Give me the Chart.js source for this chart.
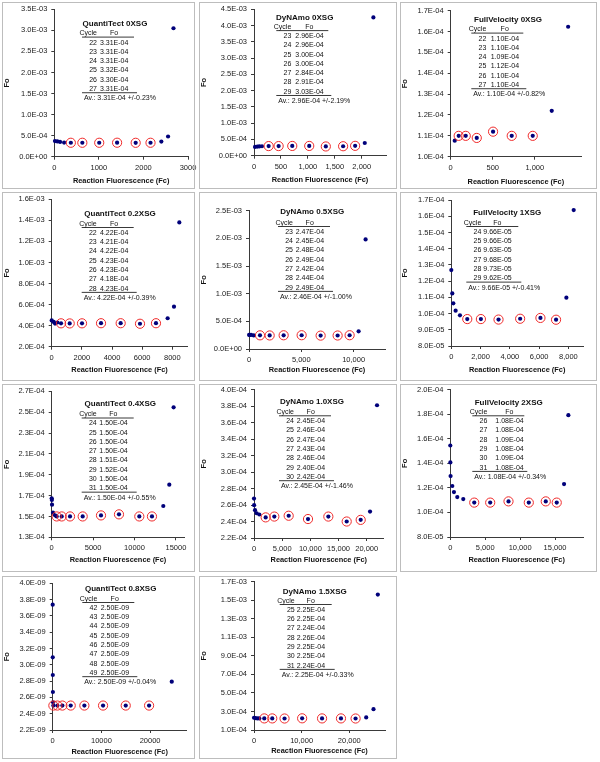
<!DOCTYPE html>
<html>
<head>
<meta charset="utf-8">
<script src="https://cdn.jsdelivr.net/npm/chart.js@4.4.1/dist/chart.umd.min.js"></script>
<style>
body { margin: 0; background: #fff; width: 600px; height: 762px; position: relative; overflow: hidden; }
canvas { position: absolute; }
.box { position: absolute; border: 1px solid #bdbdbd; box-sizing: border-box; pointer-events: none; }
</style>
</head>
<body>
<script>
// ---- data ----
// p*Fc/p*Fo: points that are not circled, p*CycFc/p*CycFo: circled points (the cycles in the table)

// QuantiTect 0XSG
var p1Title = 'QuantiTect 0XSG';
var p1Fc = [15, 68, 129, 220, 2402, 2553, 2674];
var p1Fo = [3.7e-4, 3.62e-4, 3.5e-4, 3.35e-4, 3.6e-4, 4.8e-4, 3.05e-3];
var p1Cycle = [22, 23, 24, 25, 26, 27];
var p1CycFc = [371, 629, 1008, 1409, 1826, 2159];
var p1CycFo = [3.31e-4, 3.31e-4, 3.31e-4, 3.32e-4, 3.30e-4, 3.31e-4];
var p1Av = [3.31e-4, 0.23];
var p1XAxis = [0, 3000, 1000];
var p1YAxis = [0, 3.5e-3, 5e-4];

// DyNAmo 0XSG
var p2Title = 'DyNAmo 0XSG';
var p2Fc = [19, 62, 99, 148, 2056, 2216];
var p2Fo = [2.7e-4, 2.8e-4, 2.85e-4, 2.9e-4, 3.9e-4, 4.25e-3];
var p2Cycle = [23, 24, 25, 26, 27, 28, 29];
var p2CycFc = [272, 457, 710, 1025, 1333, 1654, 1877];
var p2CycFo = [2.96e-4, 2.96e-4, 3.00e-4, 3.00e-4, 2.84e-4, 2.91e-4, 3.03e-4];
var p2Av = [2.96e-4, 2.19];
var p2XAxis = [0, 2450, 500];
var p2YAxis = [0, 4.5e-3, 5e-4];

// FullVelocity 0XSG
var p3Title = 'FullVelocity 0XSG';
var p3Fc = [48, 1202, 1397];
var p3Fo = [1.077e-4, 1.22e-4, 1.623e-4];
var p3Cycle = [22, 23, 24, 25, 26, 27];
var p3CycFc = [95, 179, 310, 504, 726, 976];
var p3CycFo = [1.10e-4, 1.10e-4, 1.09e-4, 1.12e-4, 1.10e-4, 1.10e-4];
var p3Av = [1.10e-4, 0.82];
var p3XAxis = [0, 1550, 500, 1000];
var p3YAxis = [1.0e-4, 1.7e-4, 1e-5];

// QuantiTect 0.2XSG
var p4Title = 'QuantiTect 0.2XSG';
var p4Fc = [0, 133, 221, 376, 7690, 8110, 8464];
var p4Fo = [4.5e-4, 4.35e-4, 4.2e-4, 4.3e-4, 4.7e-4, 5.8e-4, 1.38e-3];
var p4Cycle = [22, 23, 24, 25, 26, 27, 28];
var p4CycFc = [619, 1193, 2011, 3271, 4575, 5856, 6917];
var p4CycFo = [4.22e-4, 4.21e-4, 4.22e-4, 4.23e-4, 4.23e-4, 4.18e-4, 4.23e-4];
var p4Av = [4.22e-4, 0.39];
var p4XAxis = [0, 9000, 2000];
var p4YAxis = [2e-4, 1.6e-3, 2e-4];

// DyNAmo 0.5XSG
var p5Title = 'DyNAmo 0.5XSG';
var p5Fc = [10, 80, 200, 450, 10478, 11146];
var p5Fo = [2.55e-4, 2.55e-4, 2.55e-4, 2.45e-4, 3.2e-4, 1.98e-3];
var p5Cycle = [23, 24, 25, 26, 27, 28, 29];
var p5CycFc = [1051, 1975, 3312, 5032, 6847, 8471, 9618];
var p5CycFo = [2.47e-4, 2.45e-4, 2.48e-4, 2.49e-4, 2.42e-4, 2.44e-4, 2.49e-4];
var p5Av = [2.46e-4, 1.00];
var p5XAxis = [0, 13000, 5000];
var p5YAxis = [0, 2.5e-3, 5e-4];

// FullVelocity 1XSG
var p6Title = 'FullVelocity 1XSG';
var p6Fc = [0, 68, 136, 295, 591, 7864, 8364];
var p6Fo = [1.268e-4, 1.124e-4, 1.063e-4, 1.018e-4, 9.89e-5, 1.098e-4, 1.638e-4];
var p6Cycle = [24, 25, 26, 27, 28, 29];
var p6CycFc = [1091, 2023, 3227, 4705, 6091, 7159];
var p6CycFo = [9.66e-5, 9.66e-5, 9.63e-5, 9.68e-5, 9.73e-5, 9.62e-5];
var p6Av = [9.66e-5, 0.41];
var p6XAxis = [0, 9000, 2000];
var p6YAxis = [8e-5, 1.7e-4, 1e-5];

// QuantiTect 0.4XSG
var p7Title = 'QuantiTect 0.4XSG';
var p7Fc = [0, 20, 40, 160, 400, 13475, 14200, 14722];
var p7Fo = [1.674e-4, 1.658e-4, 1.613e-4, 1.536e-4, 1.511e-4, 1.6e-4, 1.805e-4, 2.546e-4];
var p7Cycle = [24, 25, 26, 27, 28, 29, 30, 31];
var p7CycFc = [603, 1207, 2212, 3741, 5953, 8124, 10579, 12108];
var p7CycFo = [1.50e-4, 1.50e-4, 1.50e-4, 1.50e-4, 1.51e-4, 1.52e-4, 1.50e-4, 1.50e-4];
var p7Av = [1.50e-4, 0.55];
var p7XAxis = [0, 16000, 5000];
var p7YAxis = [1.3e-4, 2.7e-4, 2e-5];

// DyNAmo 1.0XSG
var p8Title = 'DyNAmo 1.0XSG';
var p8Fc = [0, 20, 178, 473, 947, 20592, 21834];
var p8Fo = [2.678e-4, 2.598e-4, 2.537e-4, 2.5e-4, 2.485e-4, 2.52e-4, 3.81e-4];
var p8Cycle = [24, 25, 26, 27, 28, 29, 30];
var p8CycFc = [2071, 3609, 6154, 9586, 13195, 16450, 18935];
var p8CycFo = [2.45e-4, 2.46e-4, 2.47e-4, 2.43e-4, 2.46e-4, 2.40e-4, 2.42e-4];
var p8Av = [2.45e-4, 1.46];
var p8XAxis = [0, 23000, 5000];
var p8YAxis = [2.2e-4, 4.0e-4, 2e-5];

// FullVelocity 2XSG
var p9Title = 'FullVelocity 2XSG';
var p9Fc = [0, 10, 40, 286, 524, 1000, 1857, 16286, 16905];
var p9Fo = [1.545e-4, 1.407e-4, 1.296e-4, 1.215e-4, 1.166e-4, 1.125e-4, 1.109e-4, 1.231e-4, 1.792e-4];
var p9Cycle = [26, 27, 28, 29, 30, 31];
var p9CycFc = [3429, 5714, 8333, 11238, 13667, 15238];
var p9CycFo = [1.08e-4, 1.08e-4, 1.09e-4, 1.08e-4, 1.09e-4, 1.08e-4];
var p9Av = [1.08e-4, 0.34];
var p9XAxis = [0, 19000, 5000];
var p9YAxis = [8e-5, 2e-4, 2e-5];

// QuantiTect 0.8XSG
var p10Title = 'QuantiTect 0.8XSG';
var p10Fc = [0, 10, 20, 40, 80, 24452];
var p10Fo = [3.738e-9, 3.092e-9, 2.875e-9, 2.666e-9, 2.54e-9, 2.793e-9];
var p10Cycle = [42, 43, 44, 45, 46, 47, 48, 49];
var p10CycFc = [137, 959, 1986, 3699, 6507, 10342, 15000, 19795];
var p10CycFo = [2.50e-9, 2.50e-9, 2.50e-9, 2.50e-9, 2.50e-9, 2.50e-9, 2.50e-9, 2.50e-9];
var p10Av = [2.50e-9, 0.04];
var p10XAxis = [0, 27500, 10000];
var p10YAxis = [2.2e-9, 4.0e-9, 2e-10];

// DyNAmo 1.5XSG
var p11Title = 'DyNAmo 1.5XSG';
var p11Fc = [0, 279, 697, 1115, 23554, 25087, 25993];
var p11Fo = [2.32e-4, 2.29e-4, 2.25e-4, 2.25e-4, 2.36e-4, 3.25e-4, 1.56e-3];
var p11Cycle = [25, 26, 27, 28, 29, 30, 31];
var p11CycFc = [2160, 3833, 6411, 10105, 14286, 18258, 21324];
var p11CycFo = [2.25e-4, 2.25e-4, 2.24e-4, 2.26e-4, 2.25e-4, 2.25e-4, 2.24e-4];
var p11Av = [2.25e-4, 0.33];
var p11XAxis = [0, 27500, 10000];
var p11YAxis = [1e-4, 1.7e-3, 2e-4];

// ---- layout (page pixels) ----
// box: frame, area: plot area L,T,R,B, xt: x title offset below axis,
// tab: title x, title y, header y, cycle column right edge, gap to Fo column
var layout = [
  {box: [2, 2, 195, 189],     area: [54.3, 9.3, 188, 156.7],   xt: 24.3, tab: [115, 24, 33.3, 97, 3],         commas: false},
  {box: [199, 2, 397, 189],   area: [254, 9.3, 386, 155.7],    xt: 24,   tab: [304.7, 18, 26.8, 291.3, 4],    commas: true},
  {box: [400, 2, 597, 189],   area: [450.7, 10.7, 581, 156.7], xt: 25,   tab: [508, 19.3, 29.3, 486.3, 4.4],  commas: true},
  {box: [2, 192, 195, 381],   area: [51.7, 199.3, 187.4, 346.7], xt: 23.3, tab: [120, 214, 223.7, 96.7, 3.3], commas: false},
  {box: [199, 192, 397, 381], area: [249, 210.7, 385, 349],    xt: 21,   tab: [312.2, 212, 222.7, 293, 2.7],  commas: true},
  {box: [400, 192, 597, 381], area: [451.3, 200, 583, 346],    xt: 24,   tab: [507.2, 212.7, 222.7, 481.3, 2], commas: true},
  {box: [2, 384, 195, 572],   area: [51.7, 391.3, 184.2, 537.3], xt: 23, tab: [120.3, 404, 414.2, 96.7, 2.6], commas: false},
  {box: [199, 384, 397, 572], area: [254, 388.7, 383.6, 538],  xt: 22.3, tab: [312, 402, 412, 294, 2.7],     commas: true},
  {box: [400, 384, 597, 572], area: [450.3, 389.3, 583, 537],  xt: 23.3, tab: [508.7, 402.7, 412, 487.3, 8],  commas: true},
  {box: [2, 576, 195, 759],   area: [52.7, 583.3, 186.6, 730], xt: 22.3, tab: [120.7, 588.7, 598.7, 97.3, 3.4], commas: false},
  {box: [199, 576, 397, 759], area: [254, 580.7, 385, 730],    xt: 20.7, tab: [314.7, 591.3, 600.7, 294.7, 2], commas: true}
];

var sets = [
  [p1Title, p1Fc, p1Fo, p1Cycle, p1CycFc, p1CycFo, p1Av, p1XAxis, p1YAxis],
  [p2Title, p2Fc, p2Fo, p2Cycle, p2CycFc, p2CycFo, p2Av, p2XAxis, p2YAxis],
  [p3Title, p3Fc, p3Fo, p3Cycle, p3CycFc, p3CycFo, p3Av, p3XAxis, p3YAxis],
  [p4Title, p4Fc, p4Fo, p4Cycle, p4CycFc, p4CycFo, p4Av, p4XAxis, p4YAxis],
  [p5Title, p5Fc, p5Fo, p5Cycle, p5CycFc, p5CycFo, p5Av, p5XAxis, p5YAxis],
  [p6Title, p6Fc, p6Fo, p6Cycle, p6CycFc, p6CycFo, p6Av, p6XAxis, p6YAxis],
  [p7Title, p7Fc, p7Fo, p7Cycle, p7CycFc, p7CycFo, p7Av, p7XAxis, p7YAxis],
  [p8Title, p8Fc, p8Fo, p8Cycle, p8CycFc, p8CycFo, p8Av, p8XAxis, p8YAxis],
  [p9Title, p9Fc, p9Fo, p9Cycle, p9CycFc, p9CycFo, p9Av, p9XAxis, p9YAxis],
  [p10Title, p10Fc, p10Fo, p10Cycle, p10CycFc, p10CycFo, p10Av, p10XAxis, p10YAxis],
  [p11Title, p11Fc, p11Fo, p11Cycle, p11CycFc, p11CycFo, p11Av, p11XAxis, p11YAxis]
];

var FONT = "'Liberation Sans', Arial, sans-serif";
var AXIS = '#3a3a3a';

// 3.5E-03 style labels
function sci(v, d) {
  if (Math.abs(v) < 1e-20) return (0).toFixed(d) + 'E+00';
  var e = Math.floor(Math.log10(Math.abs(v)) + 1e-9);
  var s = (v / Math.pow(10, e)).toFixed(d);
  if (parseFloat(s) >= 10) { e += 1; s = (v / Math.pow(10, e)).toFixed(d); }
  var ae = Math.abs(e);
  return s + 'E' + (e < 0 ? '-' : '+') + (ae < 10 ? '0' : '') + ae;
}

function stepTicks(ax) {
  return function (scale) {
    var last = ax.length > 3 ? ax[3] : ax[1];
    var n = Math.floor((last - ax[0]) / ax[2] + 1e-6);
    var out = [];
    for (var i = 0; i <= n; i++) out.push({value: ax[0] + i * ax[2]});
    scale.ticks = out;
  };
}

function tablePlugin(s, lay) {
  return {
    id: 'cycleTable',
    afterDraw: function (chart) {
      var c = chart.ctx, bx = lay.box[0], by = lay.box[1];
      var tab = lay.tab;
      var tx = tab[0] - bx, ty = tab[1] - by, hy = tab[2] - by, cr = tab[3] - bx, gap = tab[4];
      var rh = 9.27, cyc = s[3], cfo = s[5], av = s[6];
      c.save();
      c.fillStyle = '#111';
      c.strokeStyle = '#222';
      c.lineWidth = 0.9;
      c.textBaseline = 'middle';
      c.font = 'bold 8px ' + FONT;
      c.textAlign = 'center';
      c.fillText(s[0], tx, ty);
      c.font = '7px ' + FONT;
      c.textAlign = 'right';
      c.fillText('Cycle', cr, hy);
      c.textAlign = 'center';
      c.fillText('Fo', cr + gap + 14, hy);
      c.beginPath();
      c.moveTo(cr - 15, hy + 3.8); c.lineTo(cr + 37, hy + 3.8);
      for (var i = 0; i < cyc.length; i++) {
        var y = hy + rh * (i + 1);
        c.textAlign = 'right';
        c.fillText(String(cyc[i]), cr, y);
        c.textAlign = 'left';
        c.fillText(sci(cfo[i], 2), cr + gap, y);
      }
      var yb = hy + rh * cyc.length + 3.8;
      c.moveTo(cr - 15, yb); c.lineTo(cr + 40, yb);
      c.stroke();
      c.textAlign = 'left';
      c.fillText('Av.: ' + sci(av[0], 2) + ' +/-' + av[1].toFixed(2) + '%', cr - 13, hy + rh * (cyc.length + 1));
      c.restore();
    }
  };
}

function makePanel(s, lay) {
  var fc = s[1], fo = s[2], cfc = s[4], cfo = s[5], xa = s[7], ya = s[8];
  var bx = lay.box[0], by = lay.box[1];
  var w = lay.box[2] - bx, h = lay.box[3] - by;
  var cw = w + 8; // a little extra room so the last x label is not cut
  var l = lay.area[0] - bx, t = lay.area[1] - by, r = lay.area[2] - bx, b = lay.area[3] - by;
  var xH = lay.xt + 4.5;
  var padL = 0.5;

  var cv = document.createElement('canvas');
  cv.width = cw; cv.height = h;
  cv.style.left = bx + 'px'; cv.style.top = by + 'px';
  document.body.appendChild(cv);
  var frame = document.createElement('div');
  frame.className = 'box';
  frame.style.left = bx + 'px'; frame.style.top = by + 'px';
  frame.style.width = w + 'px'; frame.style.height = h + 'px';
  document.body.appendChild(frame);

  var all = [], ring = [];
  for (var i = 0; i < fc.length; i++) all.push({x: fc[i], y: fo[i]});
  for (var j = 0; j < cfc.length; j++) {
    all.push({x: cfc[j], y: cfo[j]});
    ring.push({x: cfc[j], y: cfo[j]});
  }

  var tickFont = {family: FONT, size: 7.5};
  var titleFont = {family: FONT, size: 7.4, weight: 'bold'};

  new Chart(cv, {
    type: 'scatter',
    data: {
      datasets: [{
        data: ring,
        pointRadius: 4.6,
        pointBackgroundColor: 'rgba(0,0,0,0)',
        pointBorderColor: '#f02a2a',
        pointBorderWidth: 1,
        clip: false
      }, {
        data: all,
        pointRadius: 2.1,
        pointBackgroundColor: '#00007a',
        pointBorderWidth: 0,
        clip: false
      }]
    },
    options: {
      responsive: false,
      animation: false,
      events: [],
      layout: {padding: {left: padL, top: t, right: cw - r, bottom: h - b - xH}},
      plugins: {legend: {display: false}, tooltip: {enabled: false}},
      scales: {
        x: {
          type: 'linear', min: xa[0], max: xa[1], bounds: 'data',
          afterBuildTicks: stepTicks(xa),
          afterFit: function (sc) { sc.height = xH; sc.paddingLeft = 0; sc.paddingRight = 0; },
          border: {display: true, color: AXIS, width: 1},
          grid: {display: true, drawOnChartArea: false, drawTicks: true, tickLength: 3, color: AXIS},
          ticks: {
            font: tickFont, color: '#1a1a1a', padding: 3.5, maxRotation: 0, autoSkip: false,
            callback: function (v) { return lay.commas ? Number(v).toLocaleString('en-US') : String(v); }
          },
          title: {display: true, text: 'Reaction Fluorescence (Fc)', font: titleFont, color: '#111', padding: 0}
        },
        y: {
          type: 'linear', min: ya[0], max: ya[1], bounds: 'data',
          afterBuildTicks: stepTicks(ya),
          afterFit: function (sc) { sc.width = l - padL; sc.paddingTop = 0; sc.paddingBottom = 0; },
          border: {display: true, color: AXIS, width: 1},
          grid: {display: true, drawOnChartArea: false, drawTicks: true, tickLength: 3, color: AXIS},
          ticks: {
            font: tickFont, color: '#1a1a1a', padding: 4, autoSkip: false,
            callback: function (v) { return sci(v, 1); }
          },
          title: {display: true, text: 'Fo', font: {family: FONT, size: 7.5, weight: 'bold'}, color: '#111', padding: 0}
        }
      }
    },
    plugins: [tablePlugin(s, lay)]
  });
}

for (var k = 0; k < sets.length; k++) makePanel(sets[k], layout[k]);
</script>
</body>
</html>
